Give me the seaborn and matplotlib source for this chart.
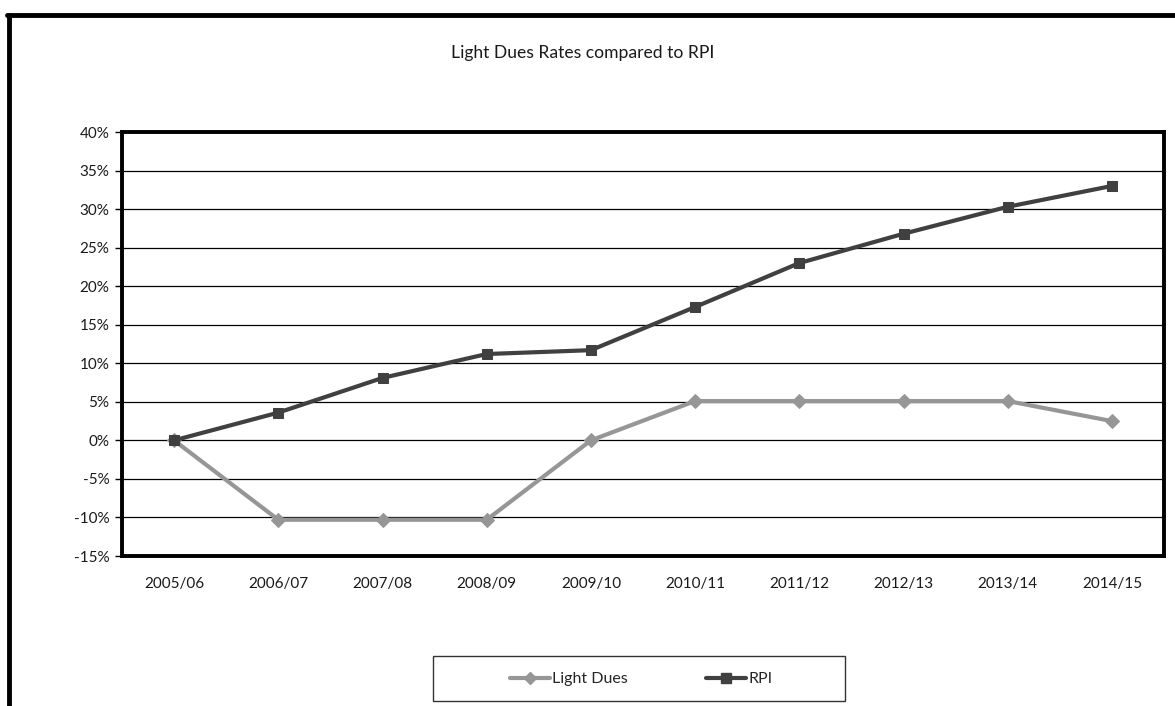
import matplotlib
matplotlib.use("Agg")
import matplotlib.pyplot as plt
from matplotlib.lines import Line2D
from matplotlib.patches import Rectangle
from matplotlib.ticker import FuncFormatter, MultipleLocator
import seaborn as sns

years = ["2005/06", "2006/07", "2007/08", "2008/09", "2009/10",
         "2010/11", "2011/12", "2012/13", "2013/14", "2014/15"]
light_dues = [0.0, -10.3, -10.3, -10.3, 0.0, 5.1, 5.1, 5.1, 5.1, 2.5]
rpi = [0.0, 3.6, 8.1, 11.2, 11.7, 17.3, 23.0, 26.8, 30.3, 33.0]

series_names = ["Light Dues", "RPI"]
series_colors = ["#969696", "#404040"]
series_markers = ["D", "s"]
marker_sizes = [7, 7.8]

sns.set_theme(style="white")
plt.rcParams["font.family"] = ["Lato", "DejaVu Sans"]

W, H = 1175, 706
fig = plt.figure(figsize=(W / 100, H / 100), dpi=100)
ax = fig.add_axes([122 / W, 1 - 556 / H, 1042 / W, 424 / H])

idx = list(range(len(years)))
for name, vals, col, mk, ms in zip(series_names, [light_dues, rpi],
                                    series_colors, series_markers, marker_sizes):
    sns.lineplot(x=idx, y=vals, ax=ax, color=col, linewidth=3,
                 marker=mk, markersize=ms, markeredgecolor=col,
                 markerfacecolor=col, label=name, legend=False, zorder=3)

ax.set_xlim(-0.5, len(years) - 0.5)
ax.set_ylim(-15, 40)
ax.set_xticks(idx)
ax.set_xticklabels(years)
ax.yaxis.set_major_locator(MultipleLocator(5))
ax.yaxis.set_major_formatter(FuncFormatter(lambda v, p: f"{v:.0f}%"))
ax.grid(axis="y", color="black", linewidth=0.9)
ax.grid(axis="x", visible=False)
ax.set_axisbelow(True)
for s in ax.spines.values():
    s.set_color("black")
    s.set_linewidth(2.8)
ax.tick_params(axis="y", left=True, length=5, width=1, color="black",
               labelsize=11, labelcolor="#1a1a1a", pad=4)
ax.tick_params(axis="x", bottom=False, labelsize=11, labelcolor="#1a1a1a", pad=9)
ax.set_xlabel("")
ax.set_ylabel("")

fig.text(583 / W, 1 - 53 / H, "Light Dues Rates compared to RPI",
         ha="center", va="center", fontsize=12.6, color="#1a1a1a")

# outer frame (left and top edges)
fig.add_artist(Line2D([9 / W, 9 / W], [0, 1 - 15 / H],
                      transform=fig.transFigure, color="black", linewidth=3.5))
fig.add_artist(Line2D([7 / W, 1], [1 - 15 / H, 1 - 15 / H],
                      transform=fig.transFigure, color="black", linewidth=3.5))

# legend box
fig.add_artist(Rectangle((433 / W, 1 - 701 / H), 412 / W, 45 / H,
                         transform=fig.transFigure, fill=False,
                         edgecolor="#333333", linewidth=1))
handles = [Line2D([], [], color=c, marker=m, markersize=s * 0.85, linewidth=3)
           for c, m, s in zip(series_colors, series_markers, marker_sizes)]
fig.legend(handles, series_names, loc="center",
           bbox_to_anchor=(641 / W, 1 - 679 / H), ncol=2,
           frameon=False, fontsize=11.5, handlelength=2.5, handletextpad=0.15,
           columnspacing=4.9, borderpad=0, borderaxespad=0)

fig.savefig("out.png", dpi=100, facecolor="white")
